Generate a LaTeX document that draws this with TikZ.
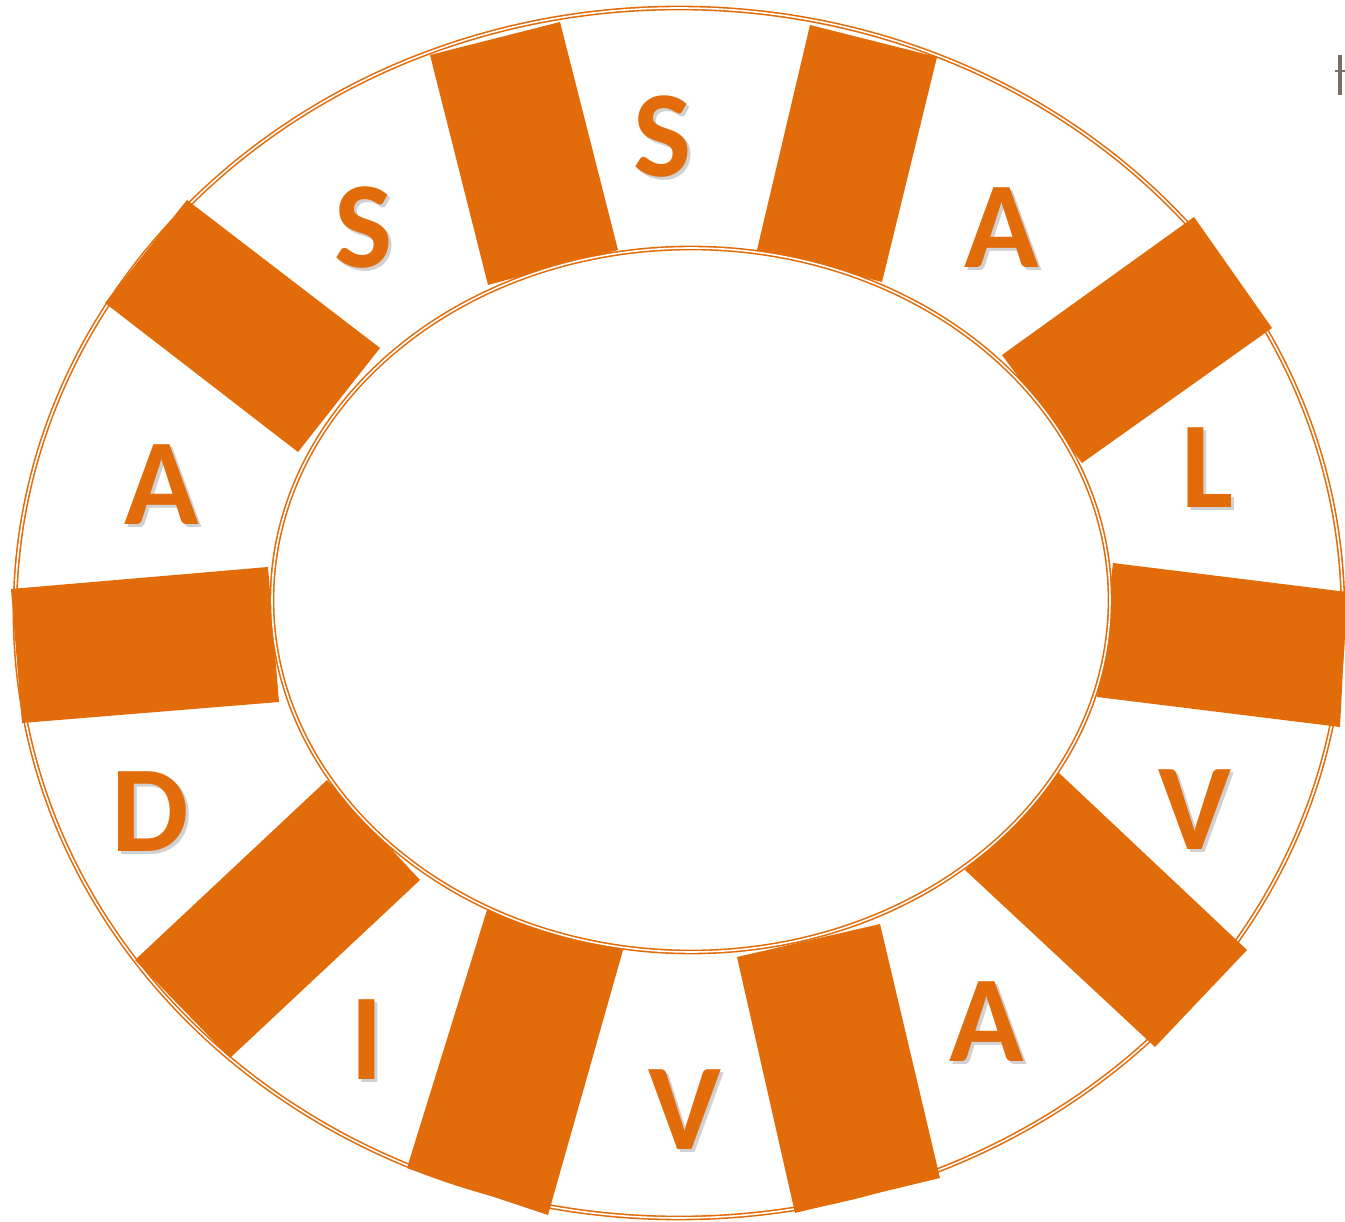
\documentclass[tikz,border=0pt]{standalone}
\usepackage{fontspec}
\setsansfont{Carlito}
\usepackage{tikz}

\begin{document}
\begin{tikzpicture}[x=0.01cm,y=-0.01cm]
\definecolor{wheelOrange}{HTML}{E36C0A}
\definecolor{markGrey}{HTML}{7A6E66}
\tikzset{
  rim/.style={draw=wheelOrange,line width=0.45pt,double=white,double distance=0.45pt},
  spoke/.style={fill=wheelOrange},
  letter/.style={font=\sffamily\bfseries\fontsize{35}{35}\selectfont,text=wheelOrange,inner sep=0pt},
  letterShadow/.style={letter,text=black!40,opacity=0.45}
}
\useasboundingbox (0,0) rectangle (1345,1222);
% ring
\draw[rim,fill=white] (679,613) ellipse [x radius=664,y radius=605];
\foreach \a/\b/\c/\d in {{430,55}/{560,22}/{618,250}/{488,285},
    {810,25}/{937,57}/{882,282}/{757,250},
    {1194,217}/{1272,328}/{1082,463}/{1002,355},
    {1113,563}/{1347,592}/{1340,727}/{1097,697},
    {1058,772}/{1247,950}/{1155,1047}/{965,870},
    {737,957}/{880,924}/{940,1178}/{795,1213},
    {487,910}/{623,950}/{548,1215}/{407,1168},
    {327,780}/{420,880}/{230,1058}/{135,960},
    {11,589}/{268,567}/{279,702}/{22,723},
    {187,200}/{380,348}/{298,452}/{105,303}} {
  \fill[spoke] (\a) -- (\b) -- (\c) -- (\d) -- cycle;
}
\draw[rim,fill=white] (691,600) ellipse [x radius=419,y radius=352];
% letters
\foreach \nm/\px/\py/\ch in {topS/663/137/S,rightA/1002/228/A,rightL/1208/468/L,
    rightV/1195/810/V,lowA/987/1022/A,botV/685/1110/V,lowI/367/1040/I,
    leftD/150/812/D,leftA/162/485/A,leftS/364/228/S} {
  \node[letterShadow] at ([shift={(3,3)}]\px,\py) {\ch};
  \node[letter] (\nm) at (\px,\py) {\ch};
}
% cut-off mark at the edge
\draw[markGrey,line width=0.9pt] (1340,55) -- (1340,95);
\draw[markGrey,line width=0.6pt] (1335,71) -- (1345,71);
\end{tikzpicture}
\end{document}
